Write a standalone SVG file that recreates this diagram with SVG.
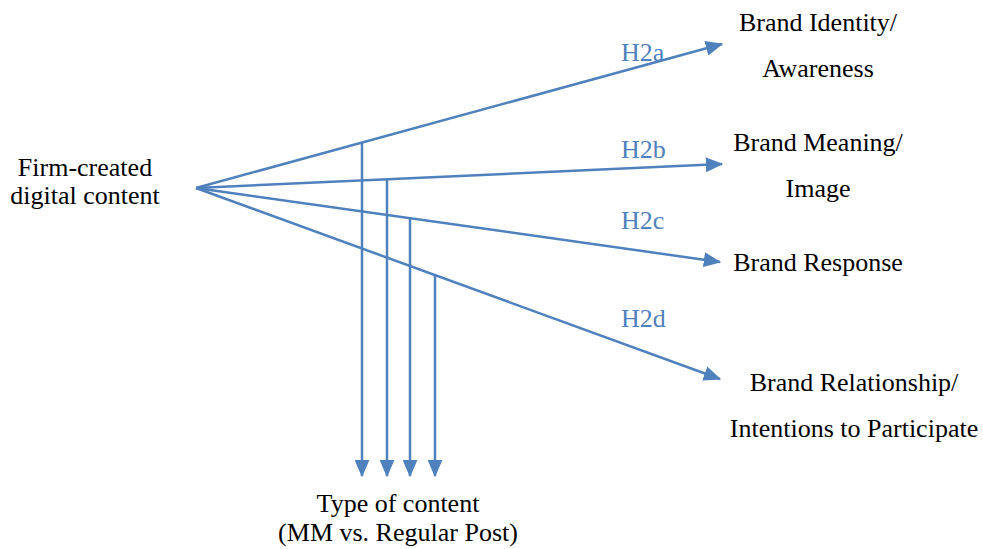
<svg xmlns="http://www.w3.org/2000/svg" width="983" height="549" viewBox="0 0 983 549">
<style>
text{font-family:'Liberation Serif','Times New Roman','DejaVu Serif',serif;font-size:26px}
.t{fill:#000;text-anchor:middle}
.h{fill:#4F81BD}
.c{stroke:#4F81BD;stroke-width:2.5;fill:none;marker-end:url(#ah)}
</style>
<defs>
<marker id="ah" markerWidth="7" markerHeight="6" refX="6.5" refY="3" orient="auto" markerUnits="strokeWidth">
<path d="M0,0 L7,3 L0,6 Z" fill="#4F81BD"/>
</marker>
</defs>
<rect width="983" height="549" fill="#fff"/>
<g id="connectors">
<line class="c" x1="196" y1="188" x2="722" y2="44"/>
<line class="c" x1="196" y1="188" x2="722" y2="164"/>
<line class="c" x1="196" y1="188" x2="720" y2="262"/>
<line class="c" x1="196" y1="188" x2="720" y2="379"/>
<line class="c" x1="362" y1="142" x2="362" y2="476"/>
<line class="c" x1="387" y1="179" x2="387" y2="476"/>
<line class="c" x1="410" y1="217" x2="410" y2="476"/>
<line class="c" x1="435" y1="275" x2="435" y2="476"/>
</g>
<g id="labels">
<text class="h" x="621" y="61">H2a</text>
<text class="h" x="621" y="158">H2b</text>
<text class="h" x="621" y="229">H2c</text>
<text class="h" x="621" y="327">H2d</text>
</g>
<g id="source"><text class="t" x="85" y="176">Firm-created</text><text class="t" x="85" y="204">digital content</text></g>
<g id="identity"><text class="t" x="818" y="31">Brand Identity/</text><text class="t" x="818" y="77">Awareness</text></g>
<g id="meaning"><text class="t" x="818" y="151">Brand Meaning/</text><text class="t" x="818" y="197">Image</text></g>
<g id="response"><text class="t" x="818" y="271">Brand Response</text></g>
<g id="relationship"><text class="t" x="854" y="391">Brand Relationship/</text><text class="t" x="854" y="437">Intentions to Participate</text></g>
<g id="type"><text class="t" x="398" y="512">Type of content</text><text class="t" x="398" y="541">(MM vs. Regular Post)</text></g>
</svg>
